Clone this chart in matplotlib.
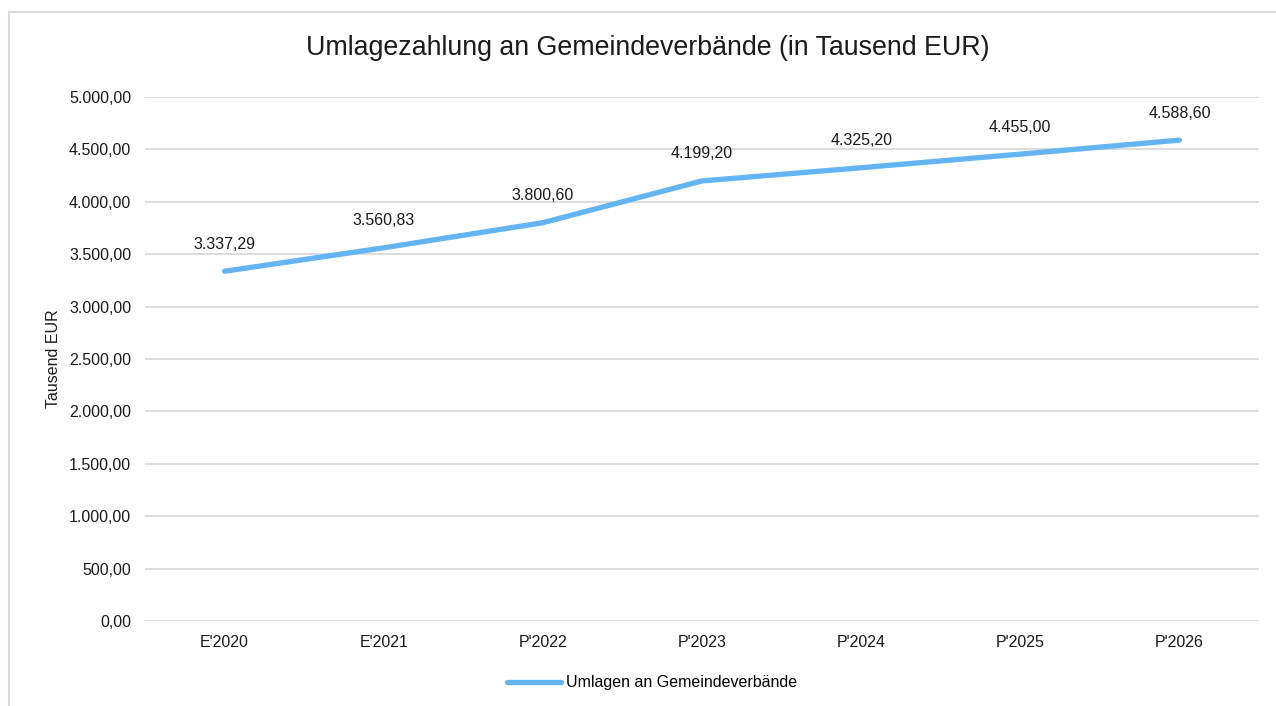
import matplotlib.pyplot as plt
from matplotlib.patches import Rectangle
from matplotlib.ticker import FuncFormatter

plt.rcParams['font.family'] = ['Liberation Sans', 'DejaVu Sans']

years = ["E'2020", "E'2021", "P'2022", "P'2023", "P'2024", "P'2025", "P'2026"]
values = [3337.29, 3560.83, 3800.60, 4199.20, 4325.20, 4455.00, 4588.60]
series_name = 'Umlagen an Gemeindeverbände'
yticks = [0, 500, 1000, 1500, 2000, 2500, 3000, 3500, 4000, 4500, 5000]


def de_fmt(v, pos=None):
    s = f"{v:,.2f}"
    return s.replace(",", "X").replace(".", ",").replace("X", ".")


fig = plt.figure(figsize=(12.76, 7.06), dpi=100)
ax = fig.add_axes([145 / 1276, 1 - 621 / 706, (1259 - 145) / 1276, (621 - 97) / 706])

# light outer frame (chart area border, cut off on the right/bottom)
fig.patches.append(Rectangle((9 / 1276, -0.05), 1.2, 1 - 12 / 706 + 0.05,
                             transform=fig.transFigure, fill=False,
                             edgecolor='#D9D9D9', linewidth=1.5))

x = list(range(len(years)))
line_color = '#63B4F2'
ax.plot(x, values, color=line_color, linewidth=3.8, solid_capstyle='round',
        solid_joinstyle='round', label=series_name)

for xi, v in zip(x, values):
    ax.annotate(de_fmt(v), (xi, v), xytext=(0, 14), textcoords='offset points',
                ha='center', va='bottom', fontsize=11.5, color='#1a1a1a')

ax.set_xlim(-0.5, len(years) - 0.5)
ax.set_ylim(0, 5000)
ax.set_yticks(yticks)
ax.yaxis.set_major_formatter(FuncFormatter(de_fmt))
ax.set_xticks(x)
ax.set_xticklabels(years)
ax.tick_params(axis='both', length=0, labelsize=11.5, colors='#1a1a1a')
ax.tick_params(axis='y', pad=10)
ax.tick_params(axis='x', pad=10)
ax.grid(axis='y', color='#D9D9D9', linewidth=1.3)
ax.set_axisbelow(True)
for sp in ax.spines.values():
    sp.set_visible(False)

ax.set_ylabel('Tausend EUR', fontsize=11.5, color='#1a1a1a')
ax.yaxis.set_label_coords((61 - 145) / 1114, 0.5)
fig.text(648 / 1276, 1 - 48 / 706, 'Umlagezahlung an Gemeindeverbände (in Tausend EUR)',
         ha='center', va='center', fontsize=19.3, color='#1a1a1a')

fig.legend(loc='center', bbox_to_anchor=(652 / 1276, 1 - 683 / 706), frameon=False,
           fontsize=11.5, handlelength=3.4, handletextpad=0.3)

fig.savefig('out.png', dpi=100)
